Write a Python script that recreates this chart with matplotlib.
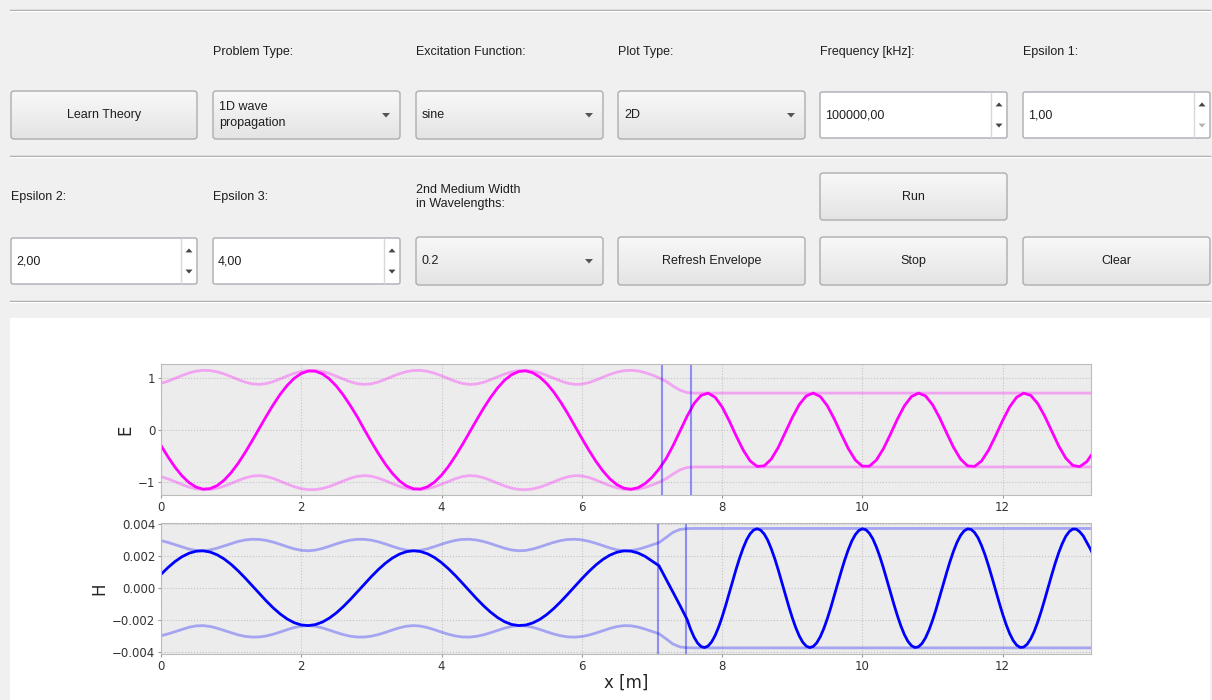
import numpy as np
import matplotlib
matplotlib.use('Agg')
import matplotlib.pyplot as plt
from matplotlib.patches import FancyBboxPatch, Rectangle, Polygon
from matplotlib.colors import LinearSegmentedColormap

# sample grid of the E snapshot and of both envelopes, metres
x_pos = np.round(np.arange(0, 13.35, 0.1), 2)
# H snapshot grid: finer past the second interface where H swings harder
x_h = np.round(np.r_[np.arange(0, 7.45, 0.1), np.arange(7.5, 13.301, 0.05)], 2)

# E field snapshot (V/m)
e_field = [
    -0.295, -0.513, -0.710, -0.876, -1.004, -1.089, -1.128, -1.118, -1.061, -0.957,
    -0.813, -0.635, -0.428, -0.204, 0.029, 0.261, 0.482, 0.683, 0.853, 0.988,
    1.079, 1.125, 1.123, 1.072, 0.976, 0.839, 0.666, 0.466, 0.249, 0.006,
    -0.227, -0.450, -0.653, -0.829, -0.970, -1.068, -1.121, -1.126, -1.083, -0.994,
    -0.861, -0.692, -0.491, -0.273, -0.041, 0.192, 0.418, 0.623, 0.805, 0.953,
    1.056, 1.116, 1.129, 1.093, 1.011, 0.887, 0.725, 0.530, 0.313, 0.076,
    -0.157, -0.384, -0.595, -0.780, -0.932, -1.043, -1.110, -1.130, -1.101, -1.025,
    -0.904, -0.745, -0.550, -0.300, -0.020, 0.260, 0.506, 0.661, 0.704, 0.626,
    0.441, 0.181, -0.110, -0.381, -0.590, -0.695, -0.684, -0.557, -0.335, -0.051,
    0.236, 0.485, 0.651, 0.705, 0.639, 0.464, 0.210, -0.080, -0.356, -0.573,
    -0.690, -0.690, -0.573, -0.357, -0.081, 0.209, 0.464, 0.639, 0.705, 0.651,
    0.485, 0.237, -0.051, -0.331, -0.555, -0.684, -0.695, -0.590, -0.382, -0.110,
    0.181, 0.441, 0.626, 0.704, 0.661, 0.506, 0.265, -0.022, -0.305, -0.536,
    -0.675, -0.699, -0.604, -0.408,
]

# H field snapshot (mA/m) on x_h
h_field_milli = [
    0.860, 1.288, 1.660, 1.961, 2.178, 2.302, 2.327, 2.252, 2.081, 1.821,
    1.482, 1.079, 0.632, 0.157, -0.325, -0.791, -1.227, -1.608, -1.921, -2.152,
    -2.289, -2.330, -2.270, -2.113, -1.865, -1.538, -1.145, -0.702, -0.229, 0.253,
    0.725, 1.165, 1.556, 1.879, 2.122, 2.275, 2.330, 2.285, 2.142, 1.908,
    1.590, 1.203, 0.771, 0.301, -0.181, -0.656, -1.099, -1.496, -1.833, -2.093,
    -2.261, -2.328, -2.297, -2.166, -1.948, -1.643, -1.267, -0.838, -0.372, 0.109,
    0.586, 1.037, 1.445, 1.790, 2.058, 2.239, 2.324, 2.309, 2.195, 1.987,
    1.695, 1.400, 0.580, -0.250, -1.080,
    # from 7.5 m in 0.05 m steps
    -1.937, -2.545, -3.045, -3.414, -3.635, -3.699, -3.603, -3.351, -2.955, -2.430,
    -1.802, -1.093, -0.339, 0.432, 1.183, 1.881, 2.497, 3.014, 3.390, 3.622,
    3.700, 3.617, 3.377, 2.997, 2.470, 1.854, 1.151, 0.400, -0.370, -1.123,
    -1.828, -2.454, -2.973, -3.365, -3.610, -3.700, -3.629, -3.402, -3.027, -2.521,
    -1.907, -1.211, -0.461, 0.309, 1.064, 1.775, 2.405, 2.940, 3.338, 3.596,
    3.698, 3.640, 3.425, 3.067, 2.561, 1.961, 1.266, 0.521, -0.247, -1.005,
    -1.720, -2.361, -2.899, -3.313, -3.581, -3.696, -3.651, -3.448, -3.096, -2.610,
    -2.013, -1.327, -0.582, 0.186, 0.946, 1.666, 2.311, 2.859, 3.284, 3.565,
    3.693, 3.660, 3.469, 3.134, 2.647, 2.067, 1.380, 0.643, -0.125, -0.887,
    -1.611, -2.264, -2.821, -3.256, -3.549, -3.689, -3.669, -3.491, -3.162, -2.696,
    -2.113, -1.443, -0.704, 0.063, 0.828, 1.555, 2.216, 2.775, 3.228, 3.527,
    3.683, 3.676, 3.510, 3.250, 2.850, 2.450, 2.000,
]

# envelope (max over time) of |E| and |H|
e_env = [
    0.891, 0.932, 0.985, 1.041, 1.089, 1.123, 1.139, 1.135, 1.111, 1.071,
    1.019, 0.963, 0.914, 0.880, 0.870, 0.886, 0.924, 0.976, 1.032, 1.082,
    1.119, 1.138, 1.137, 1.116, 1.078, 1.027, 0.972, 0.920, 0.884, 0.870,
    0.882, 0.918, 0.968, 1.024, 1.075, 1.114, 1.136, 1.138, 1.120, 1.084,
    1.035, 0.980, 0.927, 0.888, 0.870, 0.879, 0.911, 0.960, 1.016, 1.068,
    1.110, 1.134, 1.139, 1.124, 1.091, 1.043, 0.988, 0.935, 0.893, 0.871,
    0.876, 0.905, 0.952, 1.008, 1.061, 1.104, 1.132, 1.140, 1.128, 1.097,
    1.051, 0.997, 0.930, 0.840, 0.760, 0.715,
] + [0.705] * 58

h_env_milli = [
    2.962, 2.849, 2.708, 2.561, 2.433, 2.350, 2.332, 2.384, 2.493, 2.634,
    2.781, 2.910, 3.003, 3.047, 3.038, 2.976, 2.869, 2.731, 2.582, 2.449,
    2.358, 2.330, 2.372, 2.473, 2.612, 2.760, 2.893, 2.992, 3.044, 3.043,
    2.989, 2.887, 2.753, 2.604, 2.467, 2.369, 2.330, 2.362, 2.455, 2.590,
    2.738, 2.875, 2.980, 3.040, 3.046, 2.999, 2.905, 2.774, 2.627, 2.486,
    2.380, 2.331, 2.352, 2.438, 2.568, 2.716, 2.855, 2.966, 3.034, 3.049,
    3.010, 2.922, 2.796, 2.649, 2.506, 2.393, 2.334, 2.345, 2.421, 2.547,
    2.693, 2.836, 3.150, 3.480, 3.660, 3.710,
] + [3.720] * 58

# medium 2 boundaries (E and H sit on staggered grids)
e_bounds = [7.15, 7.55]
h_bounds = [7.09, 7.49]

# GUI contents
row1_labels = ["", "Problem Type:", "Excitation Function:", "Plot Type:",
               "Frequency [kHz]:", "Epsilon 1:"]
row2_labels = ["Epsilon 2:", "Epsilon 3:", "2nd Medium Width\nin Wavelengths:",
               "", "", ""]

W, H = 1212, 700
col_x = [11, 213, 416, 618, 820, 1023]
col_w = 187

fig = plt.figure(figsize=(W / 100, H / 100), dpi=100, facecolor='#f0f0f0')
ui = fig.add_axes([0, 0, 1, 1], zorder=0)
ui.axis('off')

gui_font = dict(family=['Liberation Sans', 'DejaVu Sans'], fontsize=9, color='#1e1e1e')
grad = np.linspace(0, 1, 64).reshape(-1, 1)
btn_cmap = LinearSegmentedColormap.from_list('btn', ['#f8f8f8', '#e4e4e4'])


def raised_box(x, y, w, h):
    box = FancyBboxPatch((x, y), w, h, boxstyle='round,pad=0,rounding_size=3',
                         fc='none', ec='#adadad', lw=1, zorder=3)
    ui.add_patch(box)
    img = ui.imshow(grad, cmap=btn_cmap, extent=(x, x + w, y + h, y),
                    aspect='auto', zorder=2, interpolation='bilinear')
    img.set_clip_path(box)


def button(x, y, w, h, label):
    raised_box(x, y, w, h)
    ui.text(x + w / 2, y + h / 2, label, ha='center', va='center', zorder=4, **gui_font)


def combo(x, y, w, h, label):
    raised_box(x, y, w, h)
    ui.text(x + 6, y + h / 2, label, ha='left', va='center', zorder=4,
            linespacing=1.45, **gui_font)
    ax_, ay_ = x + w - 14, y + h / 2
    ui.add_patch(Polygon([(ax_ - 4, ay_ - 2), (ax_ + 4, ay_ - 2), (ax_, ay_ + 2.5)],
                         closed=True, fc='#555555', ec='none', zorder=4))


def spin(x, y, w, h, label, down_off=False):
    ui.add_patch(FancyBboxPatch((x, y), w, h, boxstyle='round,pad=0,rounding_size=2',
                                fc='white', ec='#abadb3', lw=1, zorder=3))
    ui.plot([x + w - 16, x + w - 16], [y + 1, y + h - 1], color='#d8d8d8', lw=1, zorder=4)
    ui.text(x + 5, y + h / 2, label, ha='left', va='center', zorder=4, **gui_font)
    cx = x + w - 8
    uy, dy = y + h * 0.27, y + h * 0.73
    ui.add_patch(Polygon([(cx - 3.5, uy + 2), (cx + 3.5, uy + 2), (cx, uy - 2)],
                         closed=True, fc='#444444', ec='none', zorder=4))
    ui.add_patch(Polygon([(cx - 3.5, dy - 2), (cx + 3.5, dy - 2), (cx, dy + 2)],
                         closed=True, fc='#b4b4b4' if down_off else '#444444',
                         ec='none', zorder=4))


# separators
for sy in [9.5, 155.5, 300.5]:
    ui.plot([10, 1210], [sy, sy], color='#a0a0a0', lw=1, zorder=1)
    ui.plot([10, 1210], [sy + 1, sy + 1], color='white', lw=1, zorder=1)

# row 1
for cx, lab in zip(col_x, row1_labels):
    if lab:
        ui.text(cx, 52, lab, ha='left', va='center', **gui_font)
button(col_x[0], 91, col_w - 1, 48, 'Learn Theory')
combo(col_x[1], 91, col_w, 48, '1D wave\npropagation')
combo(col_x[2], 91, col_w, 48, 'sine')
combo(col_x[3], 91, col_w, 48, '2D')
spin(col_x[4], 92, col_w, 46, '100000,00')
spin(col_x[5], 92, col_w, 46, '1,00', down_off=True)

# row 2
for cx, lab in zip(col_x, row2_labels):
    if lab:
        ui.text(cx, 197, lab, ha='left', va='center', linespacing=1.15, **gui_font)
button(col_x[4], 173, col_w, 47, 'Run')
spin(col_x[0], 238, col_w - 1, 46, '2,00')
spin(col_x[1], 238, col_w, 46, '4,00')
combo(col_x[2], 237, col_w, 48, '0.2')
button(col_x[3], 237, col_w, 48, 'Refresh Envelope')
button(col_x[4], 237, col_w, 48, 'Stop')
button(col_x[5], 237, col_w, 48, 'Clear')

# white canvas behind the plots
ui.add_patch(Rectangle((10, 318), 1200, 382, fc='white', ec='none', zorder=1))
ui.set_xlim(0, W)
ui.set_ylim(H, 0)

# field plots
axE = fig.add_axes([161 / W, 1 - 495 / H, 930 / W, 131 / H], zorder=5)
axH = fig.add_axes([161 / W, 1 - 654 / H, 930 / W, 131 / H], zorder=5)

e_arr = np.array(e_field)
h_arr = np.array(h_field_milli) * 1e-3
e_hi = np.array(e_env)
h_hi = np.array(h_env_milli) * 1e-3

axE.plot(x_pos, e_hi, color='magenta', lw=2, alpha=0.3)
axE.plot(x_pos, -e_hi, color='magenta', lw=2, alpha=0.3)
axE.plot(x_pos, e_arr, color='magenta', lw=2)
for b in e_bounds:
    axE.axvline(b, color='blue', lw=1.5, alpha=0.4)

axH.plot(x_pos, h_hi, color='blue', lw=2, alpha=0.3)
axH.plot(x_pos, -h_hi, color='blue', lw=2, alpha=0.3)
axH.plot(x_h, h_arr, color='blue', lw=2)
for b in h_bounds:
    axH.axvline(b, color='blue', lw=1.5, alpha=0.4)

axE.set_ylim(-1.24, 1.26)
axE.set_yticks([-1, 0, 1])
axH.set_ylim(-0.0041, 0.00406)
axH.set_yticks([-0.004, -0.002, 0.0, 0.002, 0.004])
axE.set_ylabel('E', fontsize=12, color='#262626', labelpad=3)
axH.set_ylabel('H', fontsize=12, color='#262626', labelpad=3)
axH.set_xlabel('x [m]', fontsize=12, color='#262626', labelpad=1)

for ax in (axE, axH):
    ax.set_xlim(0, 13.26)
    ax.set_xticks([0, 2, 4, 6, 8, 10, 12])
    ax.set_facecolor('#ececec')
    ax.grid(True, color='#c4c4c4', linestyle=':', lw=0.8)
    ax.set_axisbelow(True)
    for sp in ax.spines.values():
        sp.set_color('#bcbcbc')
    ax.tick_params(labelsize=8.5, labelcolor='#333333', length=2.5, width=0.8,
                   pad=1.5, color='#999999')

fig.savefig('out.png', dpi=100, facecolor=fig.get_facecolor())
